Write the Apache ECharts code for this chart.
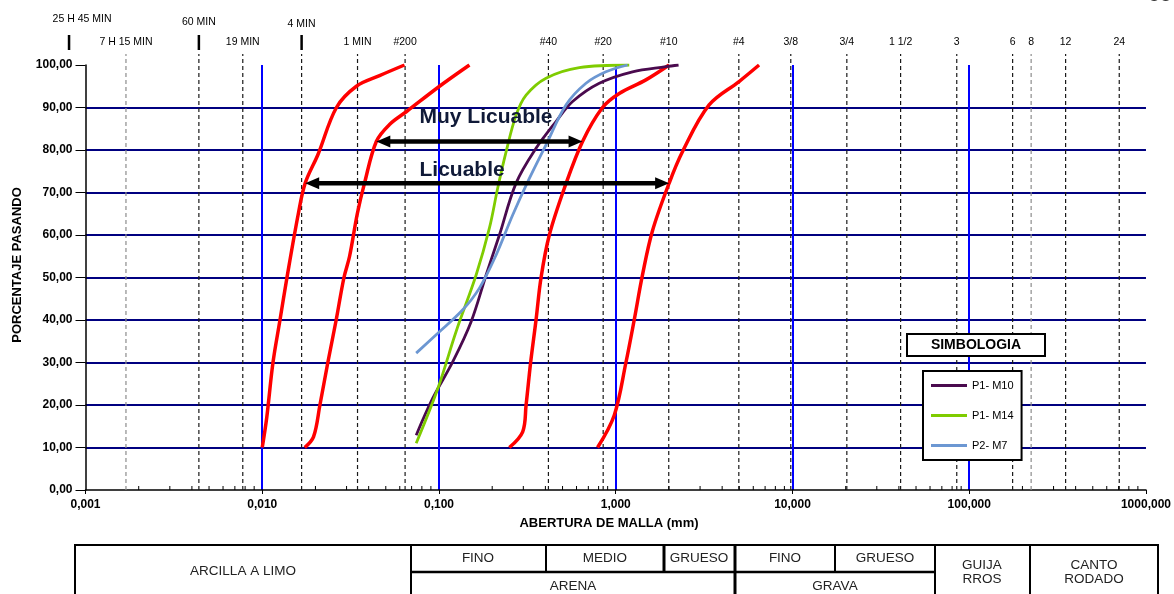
<!DOCTYPE html>
<html>
<head>
<meta charset="utf-8">
<script src="https://cdn.jsdelivr.net/npm/echarts@6/dist/echarts.min.js"></script>
<style>
  html, body { margin: 0; padding: 0; background: #fff; }
  #chart { width: 1174px; height: 594px; }
</style>
</head>
<body>
<div id="chart"></div>
<script>
// ---- Grain-size curves: opening (mm) vs. percentage passing ----

// Sample P1- M10
const m10Size = [0.0743, 0.0922, 0.1197, 0.152, 0.1848, 0.2197, 0.273, 0.354, 0.4593, 0.570, 0.807, 1.244, 1.921, 2.267];
const m10Pass = [12.9, 21.6, 30.2, 39.6, 50.6, 60.0, 72.2, 80.4, 86.7, 91.4, 95.7, 98.4, 99.6, 100];

// Sample P1- M14
const m14Size = [0.0743, 0.0985, 0.125, 0.1622, 0.1928, 0.2148, 0.2398, 0.273, 0.311, 0.4032, 0.622, 1.192];
const m14Pass = [11.0, 23.9, 37.3, 50.6, 61.6, 71.0, 79.6, 88.2, 92.9, 96.9, 99.4, 100];

// Sample P2- M7
const m7Size = [0.0743, 0.0985, 0.1363, 0.1693, 0.2105, 0.2612, 0.3245, 0.4032, 0.523, 0.6786, 0.880, 1.166];
const m7Pass = [32.2, 36.9, 42.4, 47.5, 55.3, 64.7, 73.3, 81.2, 90.6, 95.7, 98.4, 100];

// Liquefaction limit curves (outer pair: "Licuable", inner pair: "Muy Licuable")
const limA_Size = [0.0100, 0.0106, 0.0115, 0.0126, 0.0138, 0.0160, 0.0175, 0.0207, 0.0263, 0.0341, 0.0461, 0.0638];
const limA_Pass = [10, 17, 30, 40, 50, 65, 72.2, 79, 90, 95, 97.5, 100];
const limB_Size = [0.0174, 0.0195, 0.0212, 0.0235, 0.0262, 0.0290, 0.0312, 0.0345, 0.0379, 0.0442, 0.0525, 0.0653, 0.1007, 0.1487];
const limB_Pass = [10, 12.5, 20, 30, 40, 50, 55, 65, 72.2, 82, 86, 89, 95, 100];
const limC_Size = [0.250, 0.2975, 0.311, 0.330, 0.354, 0.378, 0.421, 0.512, 0.649, 0.842, 1.047, 1.481, 2.005];
const limC_Pass = [10, 13.7, 20, 30, 40, 50, 60, 71, 82, 90, 93.3, 96.5, 100];
const limD_Size = [0.789, 0.981, 1.142, 1.272, 1.417, 1.614, 2.005, 2.385, 3.375, 4.985, 6.47];
const limD_Pass = [10, 17.6, 30, 40, 50.6, 61, 72.2, 79.6, 90.6, 96.1, 100];

// Zone arrows (from size, to size, passing level) and their captions
const zoneLabels = ['Muy Licuable', 'Licuable'];
const zoneFrom = [0.0442, 0.0175];
const zoneTo = [0.649, 2.005];
const zoneLevel = [82, 72.2];
const zoneLabelSize = [0.0776, 0.0776];
const zoneLabelPass = [87.8, 75.3];

// Hydrometer reading times and their particle diameters (mm)
const hydroLabels = ['25 H 45 MIN', '7 H 15 MIN', '60 MIN', '19 MIN', '4 MIN', '1 MIN'];
const hydroSizes = [0.000807, 0.001694, 0.00438, 0.00776, 0.0167, 0.0346];

// Sieve designations and openings (mm)
const sieveLabels = ['#200', '#40', '#20', '#10', '#4', '3/8', '3/4', '1 1/2', '3', '6', '8', '12', '24'];
const sieveSizes = [0.0643, 0.416, 0.849, 1.995, 4.97, 9.78, 20.3, 40.9, 85, 176, 224, 351, 706];

// Axis ranges
const xMin = 0.001, xMax = 1000;
const yMin = 0, yMax = 100, yStep = 10;

const FONT = '"Liberation Sans", Arial, Helvetica, sans-serif';
const upperRow = new Set(['25 H 45 MIN', '60 MIN', '4 MIN']);
const lightGuides = new Set(['7 H 15 MIN', '8']);
const upperShift = { '25 H 45 MIN': [13, -3], '60 MIN': [0, 0], '4 MIN': [0, 2] };

const guides = hydroLabels.map((l, i) => ({ label: l, size: hydroSizes[i] }))
  .concat(sieveLabels.map((l, i) => ({ label: l, size: sieveSizes[i] })));

// Minor log ticks (2..9 of each decade)
const minorTicks = [];
for (let d = xMin; d < xMax * 0.99; d *= 10) {
  for (let k = 2; k <= 9; k++) minorTicks.push([d * k, 0]);
}

const pairs = (xs, ys) => xs.map((x, i) => [x, ys[i]]);
const fmtComma = (v, n) => Number(v).toFixed(n).replace('.', ',');

// Dashed reference verticals with their sieve / hydrometer captions above the plot
function renderGuide(params, api) {
  const g = guides[params.dataIndex];
  const p0 = api.coord([g.size, yMin]);
  const top = api.coord([g.size, yMax])[1];
  const x = p0[0];
  const kids = [];
  if (g.size >= xMin && g.size <= xMax) {
    kids.push({
      type: 'line',
      shape: { x1: x, y1: p0[1], x2: x, y2: top - 11 },
      style: { stroke: lightGuides.has(g.label) ? '#8c8c8c' : '#1a1a1a', lineWidth: 1.2, lineDash: [4, 3] }
    });
  }
  if (upperRow.has(g.label)) {
    const s = upperShift[g.label];
    kids.push({
      type: 'line',
      shape: { x1: x, y1: top - 30, x2: x, y2: top - 15 },
      style: { stroke: '#000', lineWidth: 2.5 }
    });
    kids.push({
      type: 'text',
      style: {
        text: g.label, x: x + s[0], y: top - 43 + s[1],
        align: 'center', verticalAlign: 'middle', font: '10.5px ' + FONT, fill: '#000'
      }
    });
  } else {
    kids.push({
      type: 'text',
      style: {
        text: g.label, x: x, y: top - 23,
        align: 'center', verticalAlign: 'middle', font: '10.5px ' + FONT, fill: '#000'
      }
    });
  }
  return { type: 'group', children: kids };
}

function renderMinorTick(params, api) {
  const p = api.coord([api.value(0), 0]);
  return { type: 'line', shape: { x1: p[0], y1: p[1], x2: p[0], y2: p[1] - 4 }, style: { stroke: '#000', lineWidth: 1 } };
}

// Double-headed zone arrows with captions
function renderZone(params, api) {
  const i = params.dataIndex;
  const a = api.coord([zoneFrom[i], zoneLevel[i]]);
  const b = api.coord([zoneTo[i], zoneLevel[i]]);
  const t = api.coord([zoneLabelSize[i], zoneLabelPass[i]]);
  const L = 14, W = 6, y = a[1];
  return {
    type: 'group',
    children: [
      { type: 'line', shape: { x1: a[0] + L - 1, y1: y, x2: b[0] - L + 1, y2: y }, style: { stroke: '#000', lineWidth: 4.5 } },
      { type: 'polygon', shape: { points: [[a[0], y], [a[0] + L, y - W], [a[0] + L, y + W]] }, style: { fill: '#000' } },
      { type: 'polygon', shape: { points: [[b[0], y], [b[0] - L, y - W], [b[0] - L, y + W]] }, style: { fill: '#000' } },
      {
        type: 'text',
        style: { text: zoneLabels[i], x: t[0], y: t[1], align: 'left', verticalAlign: 'middle', font: 'bold 21px ' + FONT, fill: '#101a38' }
      }
    ]
  };
}

const curve = (name, xs, ys, color, width) => ({
  name, type: 'line', data: pairs(xs, ys), smooth: 0.35, showSymbol: false, symbol: 'none',
  lineStyle: { color, width }, itemStyle: { color }, z: 4, animation: false, silent: true
});

const chart = echarts.init(document.getElementById('chart'), null, { renderer: 'canvas' });

// Bottom classification table (layout in pixels)
const T = { top: 545, mid: 572, bot: 606, left: 75, right: 1158 };
const tableCols = [411, 735, 935, 1030];
const tableColsTop = [546, 664, 835];
const tableTextStyle = { font: '13.5px ' + FONT, fill: '#222', align: 'center', verticalAlign: 'middle' };
const tableCells = [
  ['ARCILLA A LIMO', 243, 571], ['FINO', 478, 558], ['MEDIO', 605, 558], ['GRUESO', 699, 558],
  ['FINO', 785, 558], ['GRUESO', 885, 558], ['ARENA', 573, 586], ['GRAVA', 835, 586],
  ['GUIJA\nRROS', 982, 572], ['CANTO\nRODADO', 1094, 572]
];
const tableGraphics = [
  { type: 'rect', shape: { x: T.left, y: T.top, width: T.right - T.left, height: T.bot - T.top }, style: { fill: 'none', stroke: '#000', lineWidth: 2 } },
  { type: 'line', shape: { x1: tableCols[0], y1: T.mid, x2: tableCols[2], y2: T.mid }, style: { stroke: '#000', lineWidth: 2.5 } }
];
tableCols.forEach((c, i) => tableGraphics.push({ type: 'line', shape: { x1: c, y1: T.top, x2: c, y2: T.bot }, style: { stroke: '#000', lineWidth: i === 1 ? 3 : 2 } }));
tableColsTop.forEach((c, i) => tableGraphics.push({ type: 'line', shape: { x1: c, y1: T.top, x2: c, y2: T.mid }, style: { stroke: '#000', lineWidth: i === 1 ? 3 : 2 } }));
tableCells.forEach(([t, x, y]) => tableGraphics.push({ type: 'text', style: Object.assign({ text: t, x, y, lineHeight: 14 }, tableTextStyle) }));

const option = {
  backgroundColor: '#fff',
  animation: false,
  textStyle: { fontFamily: FONT },
  grid: { left: 85.5, right: 26.4, top: 65, bottom: 104, containLabel: false },
  legend: {
    data: ['P1- M10', 'P1- M14', 'P2- M7'],
    orient: 'vertical', left: 923, top: 371,
    icon: 'rect', itemWidth: 36, itemHeight: 3, itemGap: 19,
    padding: [9, 8, 9, 8],
    backgroundColor: '#fff', borderColor: '#000', borderWidth: 2,
    textStyle: { fontFamily: FONT, fontSize: 11, color: '#000' },
    selectedMode: false
  },
  xAxis: {
    type: 'log', logBase: 10, min: xMin, max: xMax, interval: 1,
    axisLine: { lineStyle: { color: '#000', width: 1.5 } },
    axisTick: { show: true, length: 4, lineStyle: { color: '#000' } },
    axisLabel: { color: '#000', fontWeight: 'bold', fontSize: 12, fontFamily: FONT, margin: 9, formatter: v => fmtComma(v, 3) },
    splitLine: { show: true, showMinLine: false, showMaxLine: false, lineStyle: { color: '#0000ff', width: 2 } }
  },
  yAxis: {
    type: 'value', min: yMin, max: yMax, interval: yStep,
    axisLine: { show: true, lineStyle: { color: '#000', width: 1.5 } },
    axisTick: { show: true, length: 10, lineStyle: { color: '#000' } },
    axisLabel: { color: '#000', fontWeight: 'bold', fontSize: 12, fontFamily: FONT, margin: 13, formatter: v => fmtComma(v, 2) },
    splitLine: { show: true, showMinLine: false, showMaxLine: false, lineStyle: { color: '#000080', width: 2 } }
  },
  series: [
    { name: 'guías', type: 'custom', renderItem: renderGuide, data: guides.map(g => [g.size, 0]), clip: false, silent: true, z: 2 },
    { name: 'marcas menores', type: 'custom', renderItem: renderMinorTick, data: minorTicks, clip: false, silent: true, z: 3 },
    curve('Límite A', limA_Size, limA_Pass, '#ff0000', 3.5),
    curve('Límite B', limB_Size, limB_Pass, '#ff0000', 3.5),
    curve('Límite C', limC_Size, limC_Pass, '#ff0000', 3.5),
    curve('Límite D', limD_Size, limD_Pass, '#ff0000', 3.5),
    curve('P1- M10', m10Size, m10Pass, '#4a0a4e', 2.8),
    curve('P1- M14', m14Size, m14Pass, '#7fcc00', 2.8),
    curve('P2- M7', m7Size, m7Pass, '#6c97d2', 2.8),
    {
      name: 'zonas', type: 'custom', renderItem: renderZone, clip: false, silent: true, z: 6,
      data: zoneLabels.map((t, i) => [zoneFrom[i], zoneLevel[i]])
    }
  ],
  graphic: [
    {
      type: 'text', x: 17, y: 265, rotation: Math.PI / 2,
      style: { text: 'PORCENTAJE PASANDO', font: 'bold 13px ' + FONT, fill: '#000', align: 'center', verticalAlign: 'middle' }
    },
    {
      type: 'text', x: 609, y: 523,
      style: { text: 'ABERTURA DE MALLA (mm)', font: 'bold 13px ' + FONT, fill: '#000', align: 'center', verticalAlign: 'middle' }
    },
    {
      type: 'rect', shape: { x: 907, y: 334, width: 138, height: 22 },
      style: { fill: '#fff', stroke: '#000', lineWidth: 2 }, z: 10
    },
    {
      type: 'text', x: 976, y: 345, z: 11,
      style: { text: 'SIMBOLOGIA', font: 'bold 14px ' + FONT, fill: '#000', align: 'center', verticalAlign: 'middle' }
    },
    {
      type: 'text', x: 1160, y: 5,
      style: { text: 'CO', font: '16px ' + FONT, fill: '#333', align: 'center', verticalAlign: 'bottom' }
    },
    { type: 'group', children: tableGraphics }
  ]
};

chart.setOption(option);
</script>
</body>
</html>
